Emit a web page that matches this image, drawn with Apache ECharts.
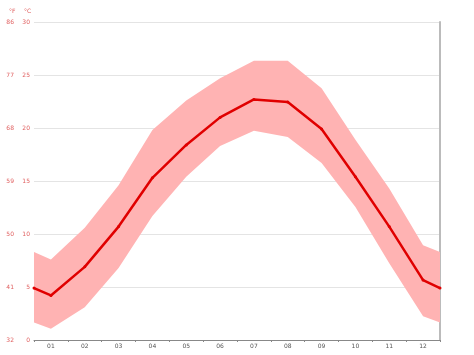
<!DOCTYPE html>
<html><head><meta charset="utf-8">
<script src="https://cdn.jsdelivr.net/npm/echarts@6/dist/echarts.min.js"></script>
<style>html,body{margin:0;padding:0;background:#fff}#c{width:474px;height:355px}</style>
</head><body><div id="c"></div>
<script>
var months = ['01','02','03','04','05','06','07','08','09','10','11','12'];
var meanTemp = [4.2, 6.9, 10.7, 15.3, 18.4, 21.0, 22.7, 22.45, 19.9, 15.4, 10.7, 5.65];
var maxTemp = [7.6, 10.6, 14.6, 19.8, 22.6, 24.7, 26.35, 26.35, 23.75, 18.9, 14.3, 8.95];
var minTemp = [1.05, 3.1, 6.8, 11.7, 15.4, 18.3, 19.75, 19.15, 16.7, 12.55, 7.25, 2.25];
// values at the chart's left and right edges (year boundary), as read
var edgeMean = 4.9, edgeMax = 8.3, edgeMin = 1.65;
var cTicks = [0, 5, 10, 15, 20, 25, 30];
var fTicks = [32, 41, 50, 59, 68, 77, 86];

function series(arr, edge) {
  var out = [[0, edge]];
  for (var i = 0; i < arr.length; i++) out.push([i + 0.5, arr[i]]);
  out.push([12, edge]);
  return out;
}
var lowS = series(minTemp, edgeMin);
var highS = series(maxTemp, edgeMax);
var meanS = series(meanTemp, edgeMean);
var bandData = highS.map(function (p, i) { return [p[0], lowS[i][1], p[1]]; });

var chart = echarts.init(document.getElementById('c'), null, {renderer: 'canvas'});
var font = 'DejaVu Sans';
chart.setOption({
  animation: false,
  grid: {left: 34, right: 34, top: 22, bottom: 15},
  xAxis: [{
    type: 'category', data: months, boundaryGap: true,
    axisLine: {lineStyle: {color: '#888', width: 1}},
    axisTick: {show: true, length: 2, lineStyle: {color: '#888'}},
    axisLabel: {fontSize: 6, color: '#555', margin: 3, fontFamily: font},
    splitLine: {show: false}
  }, {
    type: 'value', min: 0, max: 12, show: false
  }],
  yAxis: [{
    type: 'value', min: 0, max: 30, interval: 5, position: 'left',
    axisLine: {show: false}, axisTick: {show: false},
    axisLabel: {fontSize: 6, color: '#e06060', margin: 4, fontFamily: font,
      formatter: function (v) { return cTicks.indexOf(v) >= 0 ? String(v) : ''; }},
    splitLine: {lineStyle: {color: '#e4e4e4', width: 1}}
  }, {
    type: 'value', min: 32, max: 86, interval: 9, position: 'left',
    axisLine: {show: false}, axisTick: {show: false},
    axisLabel: {fontSize: 6, color: '#e06060', margin: 20, fontFamily: font,
      formatter: function (v) { return fTicks.indexOf(v) >= 0 ? String(v) : ''; }},
    splitLine: {show: false}
  }, {
    type: 'value', min: 0, max: 30, position: 'right',
    axisLine: {show: true, lineStyle: {color: '#bbb', width: 2}},
    axisTick: {show: false}, axisLabel: {show: false}, splitLine: {show: false}
  }],
  graphic: [
    {type: 'text', left: 9, top: 8, style: {text: '°F', fontSize: 6, fill: '#e06060', fontFamily: font}},
    {type: 'text', left: 24, top: 8, style: {text: '°C', fontSize: 6, fill: '#e06060', fontFamily: font}}
  ],
  series: [
    {type: 'custom', xAxisIndex: 1, yAxisIndex: 0, data: bandData, z: 2,
     encode: {x: 0, y: [1, 2]},
     renderItem: function (params, api) {
       if (params.dataIndex !== 0) return null;
       var pts = [];
       for (var i = 0; i < bandData.length; i++) pts.push(api.coord([bandData[i][0], bandData[i][2]]));
       for (var j = bandData.length - 1; j >= 0; j--) pts.push(api.coord([bandData[j][0], bandData[j][1]]));
       return {type: 'polygon', shape: {points: pts}, style: {fill: '#ffb3b3'}};
     }},
    {type: 'line', xAxisIndex: 1, yAxisIndex: 0, data: meanS,
     symbol: 'circle', symbolSize: 3, showAllSymbol: true,
     itemStyle: {color: '#e00000'},
     lineStyle: {color: '#e00000', width: 2.5}, z: 5}
  ]
});
</script></body></html>
